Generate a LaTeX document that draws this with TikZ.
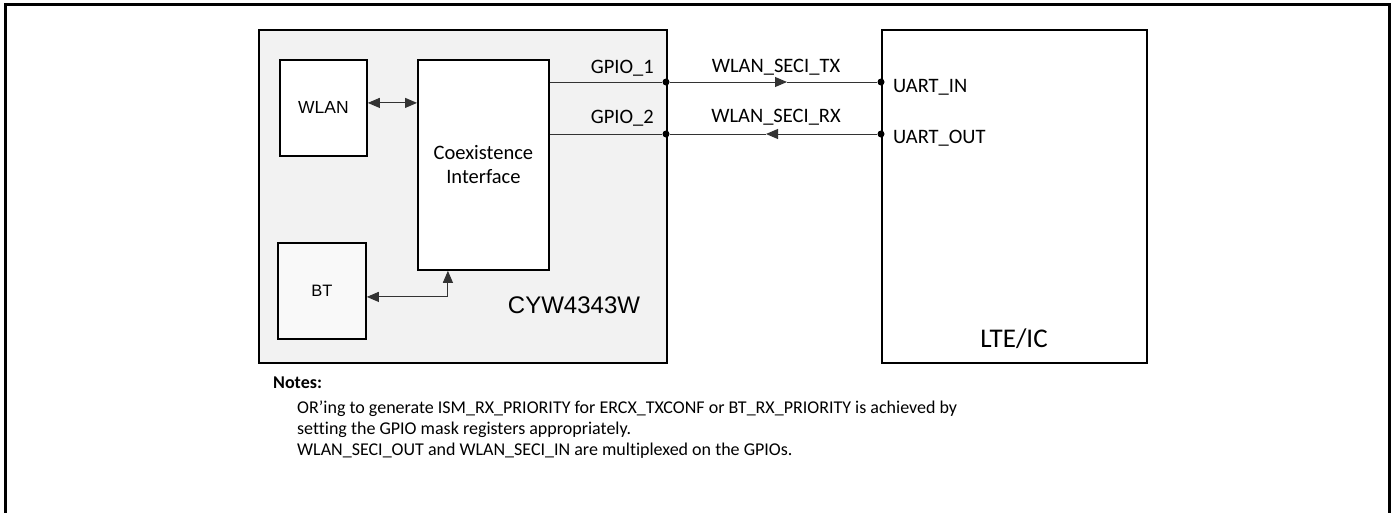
\documentclass[tikz,border=0pt]{standalone}
\usepackage{fontspec}
\setmainfont[Ligatures=NoCommon]{Carlito}
\newfontfamily\arialf{Liberation Sans}
\usetikzlibrary{arrows.meta}
\definecolor{chipfill}{HTML}{F2F2F2}
\definecolor{btfill}{HTML}{F9F9F9}
\definecolor{wirecol}{HTML}{333333}
\begin{document}
\begin{tikzpicture}[x=1pt,y=-1pt,
  blk/.style={draw=black, line width=1.8pt, inner sep=0pt, anchor=north west, align=center},
  wire/.style={draw=wirecol, line width=1pt},
  tipr/.style={-{Triangle[length=12pt,width=10pt]}},
  tipb/.style={{Triangle[length=12pt,width=10pt]}-{Triangle[length=12pt,width=10pt]}},
  pin/.style={circle, fill=black, inner sep=0pt, minimum size=7pt},
  lbl/.style={font=\fontsize{20.5}{24}\selectfont, inner sep=0pt},
  note/.style={font=\fontsize{18}{21}\selectfont, inner sep=0pt, anchor=base west}
]
\useasboundingbox (0,0) rectangle (1393,512);
\draw[line width=3pt] (5,520) -- (5,4) -- (1389,4) -- (1389,520);

\node[blk, fill=chipfill, minimum width=408pt, minimum height=333pt] (chip) at (258,29) {};
\node[blk, fill=white, minimum width=87pt, minimum height=96pt,
      font=\arialf\fontsize{17.5}{20}\selectfont] (wlan) at (279,59) {WLAN};
\node[blk, fill=white, minimum width=131pt, minimum height=210pt,
      font=\fontsize{20.5}{24}\selectfont] (coex) at (417,59) {Coexistence\\Interface};
\node[blk, fill=btfill, minimum width=88pt, minimum height=96pt,
      font=\arialf\fontsize{16.5}{20}\selectfont] (bt) at (277,242) {BT};
\node[blk, fill=white, minimum width=265pt, minimum height=333pt] (lte) at (881,29) {};

\node[inner sep=0pt, font=\arialf\fontsize{24}{28}\selectfont] (chipname) at (574,305) {CYW4343W};
\node[inner sep=0pt, anchor=base, font=\fontsize{27}{32}\selectfont] (ltename) at (1014,347) {LTE/IC};

% internal connectors
\draw[wire, tipb] ([yshift=5pt]wlan.east) -- ([yshift=5pt]wlan.east -| coex.west);
\draw[wire, tipb] ([yshift=-6pt]bt.east) -| ([xshift=-35.5pt]coex.south);

% pins
\node[pin] (p1) at (666,82) {};
\node[pin] (p2) at (666,134) {};
\node[pin] (u1) at (881,82) {};
\node[pin] (u2) at (881,134) {};
\coordinate (a1) at (787,82);
\coordinate (a2) at (766,134);

\draw[wire] (coex.east |- p1) -- (p1);
\draw[wire] (coex.east |- p2) -- (p2);
\draw[wire, tipr] (p1) -- (a1);
\draw[wire] (a1) -- (u1);
\draw[wire, tipr] (u2) -- (a2);
\draw[wire] (a2) -- (p2);

% labels
\node[lbl, anchor=base east] (g1) at (654,73) {GPIO\_1};
\node[lbl, anchor=base east] (g2) at (654,123) {GPIO\_2};
\node[lbl, anchor=base] (tx) at (776,72) {WLAN\_SECI\_TX};
\node[lbl, anchor=base] (rx) at (776,122) {WLAN\_SECI\_RX};
\node[lbl, anchor=base west] (uin) at (893,92) {UART\_IN};
\node[lbl, anchor=base west] (uout) at (893,143) {UART\_OUT};

% notes
\node[note, font=\bfseries\fontsize{18}{21}\selectfont] (nh) at (273,388) {Notes:};
\node[note] (n1) at (297,413) {OR’ing to generate ISM\_RX\_PRIORITY for ERCX\_TXCONF or BT\_RX\_PRIORITY is achieved by};
\node[note] (n2) at (297,434) {setting the GPIO mask registers appropriately.};
\node[note] (n3) at (297,455) {WLAN\_SECI\_OUT and WLAN\_SECI\_IN are multiplexed on the GPIOs.};
\end{tikzpicture}
\end{document}
